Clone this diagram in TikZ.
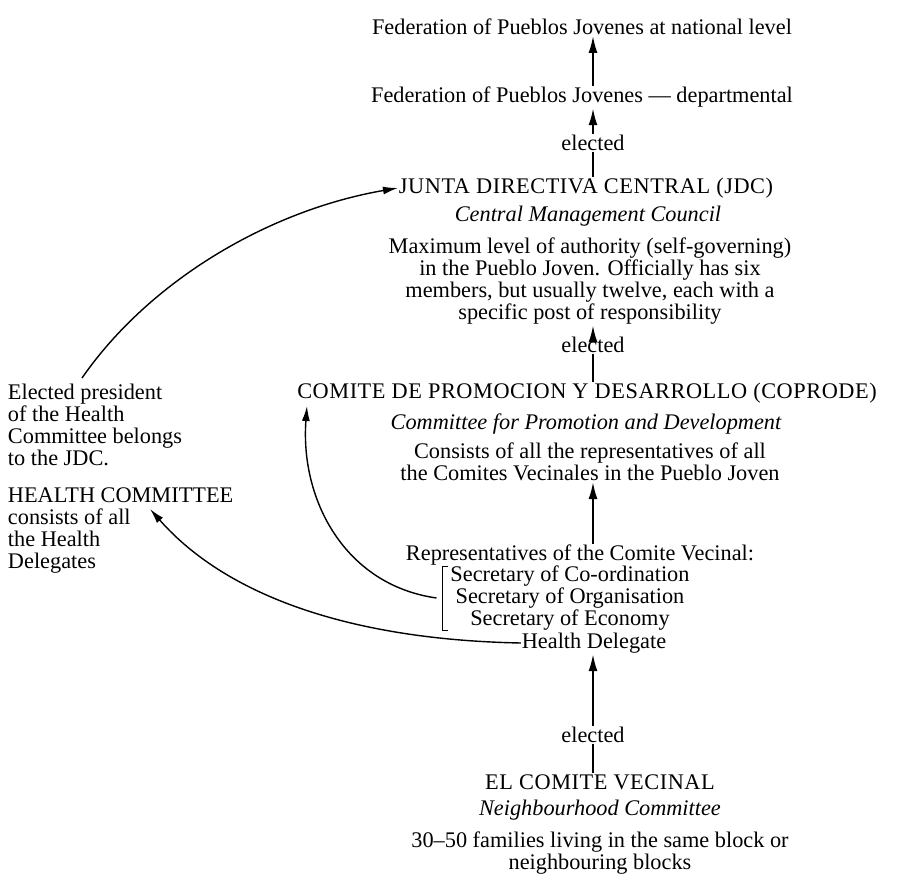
\documentclass[tikz,border=0pt]{standalone}
\usepackage{fontspec}
\setmainfont{Liberation Serif}
\newfontfamily\capsfont[LetterSpace=2.5]{Liberation Serif}
\usetikzlibrary{arrows.meta}
\begin{document}
\begin{tikzpicture}[x=1pt,y=1pt,
  txt/.style={font=\fontsize{22.3}{22}\selectfont, inner sep=1pt, outer sep=0pt, align=center},
  captxt/.style={txt, font=\fontsize{22.3}{22}\selectfont\capsfont},
  itx/.style={txt, font=\fontsize{22.3}{22}\selectfont\itshape},
  lft/.style={txt, align=left, anchor=west},
  arr/.style={-{Latex[length=17pt,width=9pt]}, line width=2pt},
  cur/.style={-{Latex[length=15pt,width=8pt]}, line width=1.4pt},
  pl/.style={line width=2pt}]
\useasboundingbox (0,0) rectangle (898,-874);
\node[txt] (nat) at (582,-27) {Federation of Pueblos Jovenes at national level};
\node[txt] (dep) at (582,-97) {Federation of Pueblos Jovenes --- departmental};
\node[txt] (el1) at (593,-143) {elected};
\node[captxt] (jdc) at (586,-188) {JUNTA DIRECTIVA CENTRAL (JDC)};
\node[itx] (jdci) at (588,-216) {Central Management Council};
\node[txt] (jdcp) at (590,-281) {Maximum level of authority (self-governing)\\in the Pueblo Joven. Officially has six\\members, but usually twelve, each with a\\specific post of responsibility};
\node[txt] (el2) at (593,-345) {elected};
\node[captxt] (cop) at (587,-393) {COMITE DE PROMOCION Y DESARROLLO (COPRODE)};
\node[itx] (copi) at (586,-424) {Committee for Promotion and Development};
\node[txt] (copp) at (590,-462) {Consists of all the representatives of all\\the Comites Vecinales in the Pueblo Joven};
\node[txt] (rep) at (580,-555) {Representatives of the Comite Vecinal:};
\node[txt] (secs) at (570,-598) {Secretary of Co-ordination\\Secretary of Organisation\\Secretary of Economy};
\node[txt] (hd) at (594,-643) {Health Delegate};
\node[txt] (el3) at (593,-735) {elected};
\node[captxt] (ecv) at (600,-782) {EL COMITE VECINAL};
\node[itx] (ecvi) at (600,-810) {Neighbourhood Committee};
\node[txt] (ecvp) at (600,-853) {30--50 families living in the same block or\\neighbouring blocks};
\node[lft] (l1) at (7,-425) {Elected president\\of the Health\\Committee belongs\\to the JDC.};
\node[lft] (l2) at (7,-531) {HEALTH COMMITTEE\\consists of all\\the Health\\Delegates};
\coordinate (c1) at (82,-378);
\coordinate (b1) at ([xshift=-1pt,yshift=-2pt]secs.north west);
\coordinate (b2) at ([xshift=-1pt,yshift=1pt]secs.south west);
\coordinate (c2) at ([xshift=-13pt]secs.west);
\coordinate (hc) at (150,-509);
\coordinate (ct) at (307,-406);
% vertical arrows
\draw[arr] (dep.north -| el1) -- (nat.south -| el1);
\draw[arr] (el1.north) -- (dep.south -| el1);
\draw[pl] (jdc.north -| el1) -- (el1.south);
\draw[arr] (el2.north) -- (jdcp.south -| el2);
\draw[pl] (cop.north -| el2) -- (el2.south);
\draw[arr] (rep.north -| el2) -- (copp.south -| el2);
\draw[arr] (el3.north) -- (hd.south -| el3);
\draw[pl] (ecv.north -| el3) -- (el3.south);
% bracket
\draw[line width=1pt] (b1) -- ++(-6,0) |- (b2);
% curves
\draw[cur] (c1) .. controls (150,-280) and (270,-210) .. (jdc.west);
\draw[cur] (c2) .. controls (345,-585) and (300,-500) .. (ct);
\draw[cur] (hd.west) .. controls (360,-640) and (230,-600) .. (hc);
\end{tikzpicture}
\end{document}
